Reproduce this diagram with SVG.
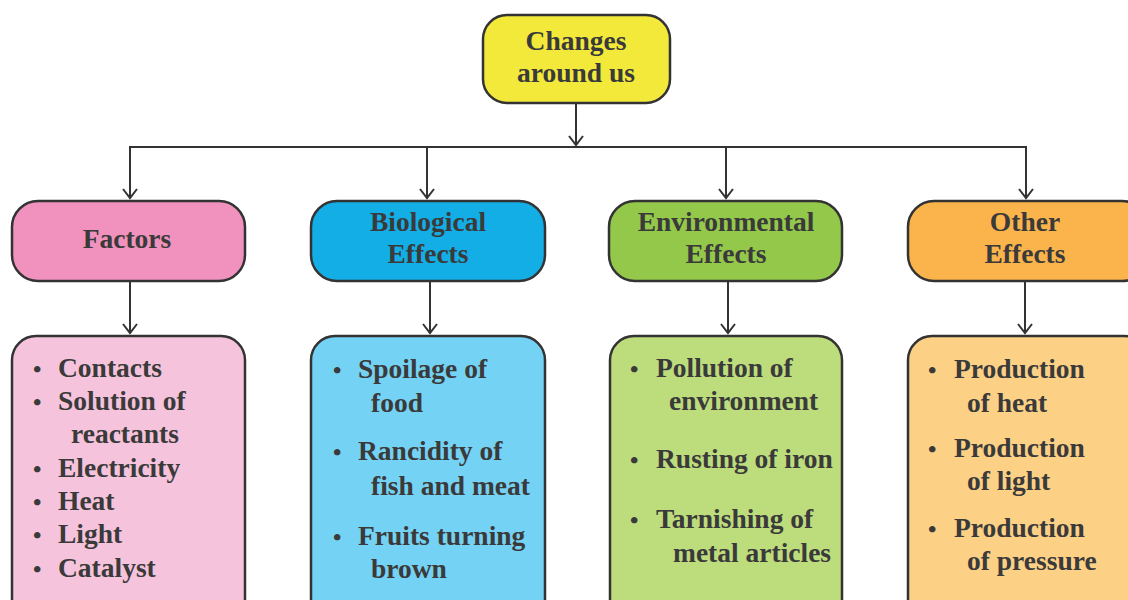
<svg xmlns="http://www.w3.org/2000/svg" width="1128" height="600" viewBox="0 0 1128 600">
<style>
.box{stroke:#333;stroke-width:2.5}
.t{font-family:"Liberation Serif","DejaVu Serif",serif;font-weight:bold;font-size:27.5px;fill:#3a3a3a}
.b{font-size:24px}
.c{text-anchor:middle}
.conn{stroke:#333;stroke-width:2;fill:none}
</style>
<defs>
<marker id="arr" markerWidth="20" markerHeight="20" refX="10" refY="10" orient="auto" markerUnits="userSpaceOnUse">
<path d="M1,3 L10,10 L1,17" fill="none" stroke="#333" stroke-width="2"/>
</marker>
</defs>
<rect width="1128" height="600" fill="#fff"/>
<g id="connectors" class="conn">
<line x1="576" y1="103" x2="576" y2="145" marker-end="url(#arr)"/>
<line x1="129" y1="147" x2="1027" y2="147"/>
<line x1="130" y1="147" x2="130" y2="198" marker-end="url(#arr)"/>
<line x1="427" y1="147" x2="427" y2="198" marker-end="url(#arr)"/>
<line x1="726" y1="147" x2="726" y2="198" marker-end="url(#arr)"/>
<line x1="1026" y1="147" x2="1026" y2="198" marker-end="url(#arr)"/>
<line x1="130" y1="281" x2="130" y2="333" marker-end="url(#arr)"/>
<line x1="430" y1="281" x2="430" y2="333" marker-end="url(#arr)"/>
<line x1="728" y1="281" x2="728" y2="333" marker-end="url(#arr)"/>
<line x1="1025" y1="281" x2="1025" y2="333" marker-end="url(#arr)"/>
</g>
<g id="root">
<rect class="box" x="483" y="15" width="187" height="88" rx="24" fill="#f2e93b"/>
<text class="t c" x="576" y="50">Changes</text>
<text class="t c" x="576" y="82">around us</text>
</g>
<g id="factors">
<rect class="box" x="12" y="201" width="233" height="80" rx="26" fill="#f192be"/>
<text class="t c" x="127" y="248">Factors</text>
</g>
<g id="biological">
<rect class="box" x="311" y="201" width="234" height="80" rx="26" fill="#13aee6"/>
<text class="t c" x="428" y="231">Biological</text>
<text class="t c" x="428" y="263">Effects</text>
</g>
<g id="environmental">
<rect class="box" x="609" y="201" width="233" height="80" rx="26" fill="#93c84a"/>
<text class="t c" x="726" y="231">Environmental</text>
<text class="t c" x="726" y="263">Effects</text>
</g>
<g id="other">
<rect class="box" x="908" y="201" width="240" height="80" rx="26" fill="#fbb44c"/>
<text class="t c" x="1025" y="231">Other</text>
<text class="t c" x="1025" y="263">Effects</text>
</g>
<g id="factors-list">
<rect class="box" x="12" y="336" width="233" height="290" rx="24" fill="#f6c3dc"/>
<g class="t">
<text class="b" x="33" y="377">•</text><text x="58" y="377">Contacts</text>
<text class="b" x="33" y="410">•</text><text x="58" y="410">Solution of</text>
<text x="71" y="443">reactants</text>
<text class="b" x="33" y="477">•</text><text x="58" y="477">Electricity</text>
<text class="b" x="33" y="510">•</text><text x="58" y="510">Heat</text>
<text class="b" x="33" y="543">•</text><text x="58" y="543">Light</text>
<text class="b" x="33" y="577">•</text><text x="58" y="577">Catalyst</text>
</g>
</g>
<g id="biological-list">
<rect class="box" x="311" y="336" width="234" height="290" rx="24" fill="#74d2f4"/>
<g class="t">
<text class="b" x="333" y="378">•</text><text x="358" y="378">Spoilage of</text>
<text x="371" y="412">food</text>
<text class="b" x="333" y="460">•</text><text x="358" y="460">Rancidity of</text>
<text x="371" y="495">fish and meat</text>
<text class="b" x="333" y="545">•</text><text x="358" y="545">Fruits turning</text>
<text x="371" y="578">brown</text>
</g>
</g>
<g id="environmental-list">
<rect class="box" x="610" y="336" width="232" height="290" rx="24" fill="#bddc7c"/>
<g class="t">
<text class="b" x="630" y="377">•</text><text x="656" y="377">Pollution of</text>
<text x="669" y="410">environment</text>
<text class="b" x="630" y="468">•</text><text x="656" y="468">Rusting of iron</text>
<text class="b" x="630" y="528">•</text><text x="656" y="528">Tarnishing of</text>
<text x="673" y="562">metal articles</text>
</g>
</g>
<g id="other-list">
<rect class="box" x="908" y="336" width="240" height="290" rx="24" fill="#fdd185"/>
<g class="t">
<text class="b" x="928" y="378">•</text><text x="954" y="378">Production</text>
<text x="967" y="412">of heat</text>
<text class="b" x="928" y="457">•</text><text x="954" y="457">Production</text>
<text x="967" y="490">of light</text>
<text class="b" x="928" y="537">•</text><text x="954" y="537">Production</text>
<text x="967" y="570">of pressure</text>
</g>
</g>
</svg>
